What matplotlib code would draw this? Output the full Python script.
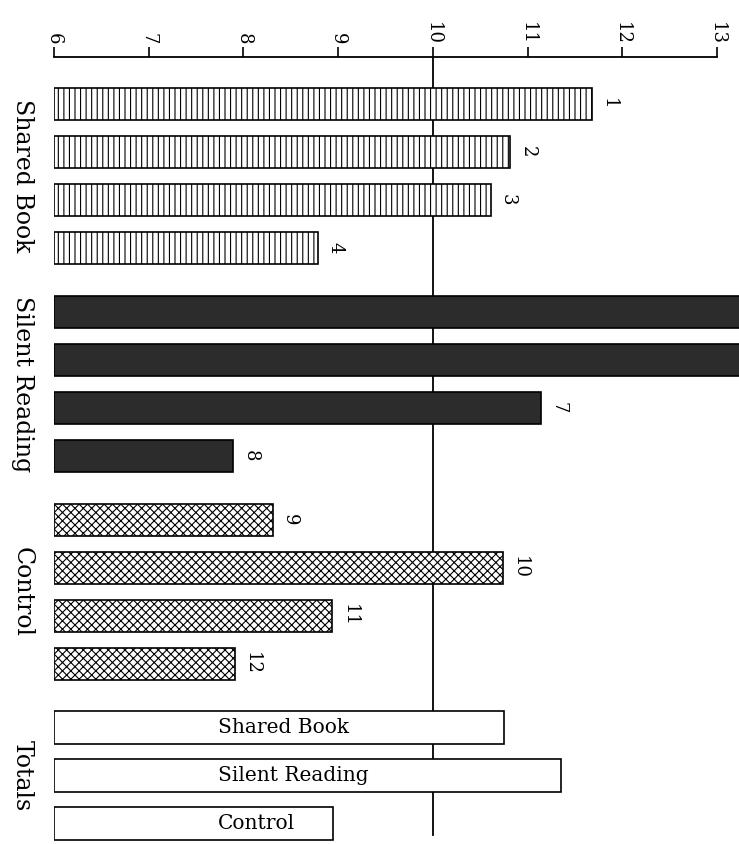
import matplotlib
matplotlib.use('Agg')
import matplotlib.pyplot as plt
from matplotlib.transforms import blended_transform_factory

# ---- data ----
group_names = ['Shared Book', 'Silent Reading', 'Control', 'Totals']
bar_numbers = ['1', '2', '3', '4', '5', '6', '7', '8', '9', '10', '11', '12']
shared_book = [11.68, 10.82, 10.61, 8.79]
silent_reading = [13.5, 13.5, 11.14, 7.89]
control = [8.31, 10.74, 8.94, 7.91]
totals_labels = ['Shared Book', 'Silent Reading', 'Control']
totals = [10.75, 11.35, 8.95]
xticks = [6, 7, 8, 9, 10, 11, 12, 13]
reference_value = 10

plt.rcParams['font.family'] = ['DejaVu Serif']
plt.rcParams['hatch.linewidth'] = 0.8

W, H = 739, 844
fig = plt.figure(figsize=(W / 100, H / 100), dpi=100)
ax = fig.add_axes([54 / W, 0, 1 - 54 / W, 1 - 57 / H])

unit_px = 94.7
ax.set_xlim(6, 6 + (W - 54) / unit_px)
ax.set_ylim((844 - 104) / 48, -(104 - 57) / 48)

gap = 1.33
bar_h = 0.67
series = [shared_book, silent_reading, control, totals]
styles = [
    dict(color='white', edgecolor='black', hatch='|||'),
    dict(color='#2c2c2c', edgecolor='black'),
    dict(color='white', edgecolor='black', hatch='xxxx'),
    dict(color='white', edgecolor='black'),
]

start = 0.0
group_centers = []
num_idx = 0
for gi, vals in enumerate(series):
    pos = [start + i for i in range(len(vals))]
    group_centers.append((pos[0] + pos[-1]) / 2)
    widths = [v - 6 for v in vals]
    ax.barh(pos, widths, left=6, height=bar_h, linewidth=1.2, zorder=2,
            **styles[gi])
    if gi < 3:
        for p, v in zip(pos, vals):
            ax.annotate(bar_numbers[num_idx], xy=(v, p), xytext=(6, 0),
                        textcoords='offset points', ha='left', va='center',
                        rotation=270, fontsize=13, zorder=3)
            num_idx += 1
    else:
        for p, lab in zip(pos, totals_labels):
            ax.text(7.73, p, lab, ha='left', va='center', fontsize=14.5,
                    zorder=3)
    start = pos[-1] + gap

# reference line
ax.plot([reference_value, reference_value], [ax.get_ylim()[1], 15.23],
        color='black', lw=1.3, zorder=1)

# axis styling
for s in ['left', 'right', 'bottom']:
    ax.spines[s].set_visible(False)
ax.spines['top'].set_bounds(6, 13)
ax.spines['top'].set_linewidth(1.3)
ax.xaxis.tick_top()
ax.set_xticks(xticks)
ax.set_xticklabels([str(t) for t in xticks])
ax.tick_params(axis='x', top=True, bottom=False, direction='out', length=7,
               width=1.2, labelsize=13, labelrotation=270, pad=2)
ax.set_yticks([])

# group labels
tr = blended_transform_factory(fig.transFigure, ax.transData)
for name, c in zip(group_names, group_centers):
    ax.text(22 / W, c, name, transform=tr, rotation=270, ha='center',
            va='center', fontsize=17)

fig.savefig('out.png', dpi=100)
